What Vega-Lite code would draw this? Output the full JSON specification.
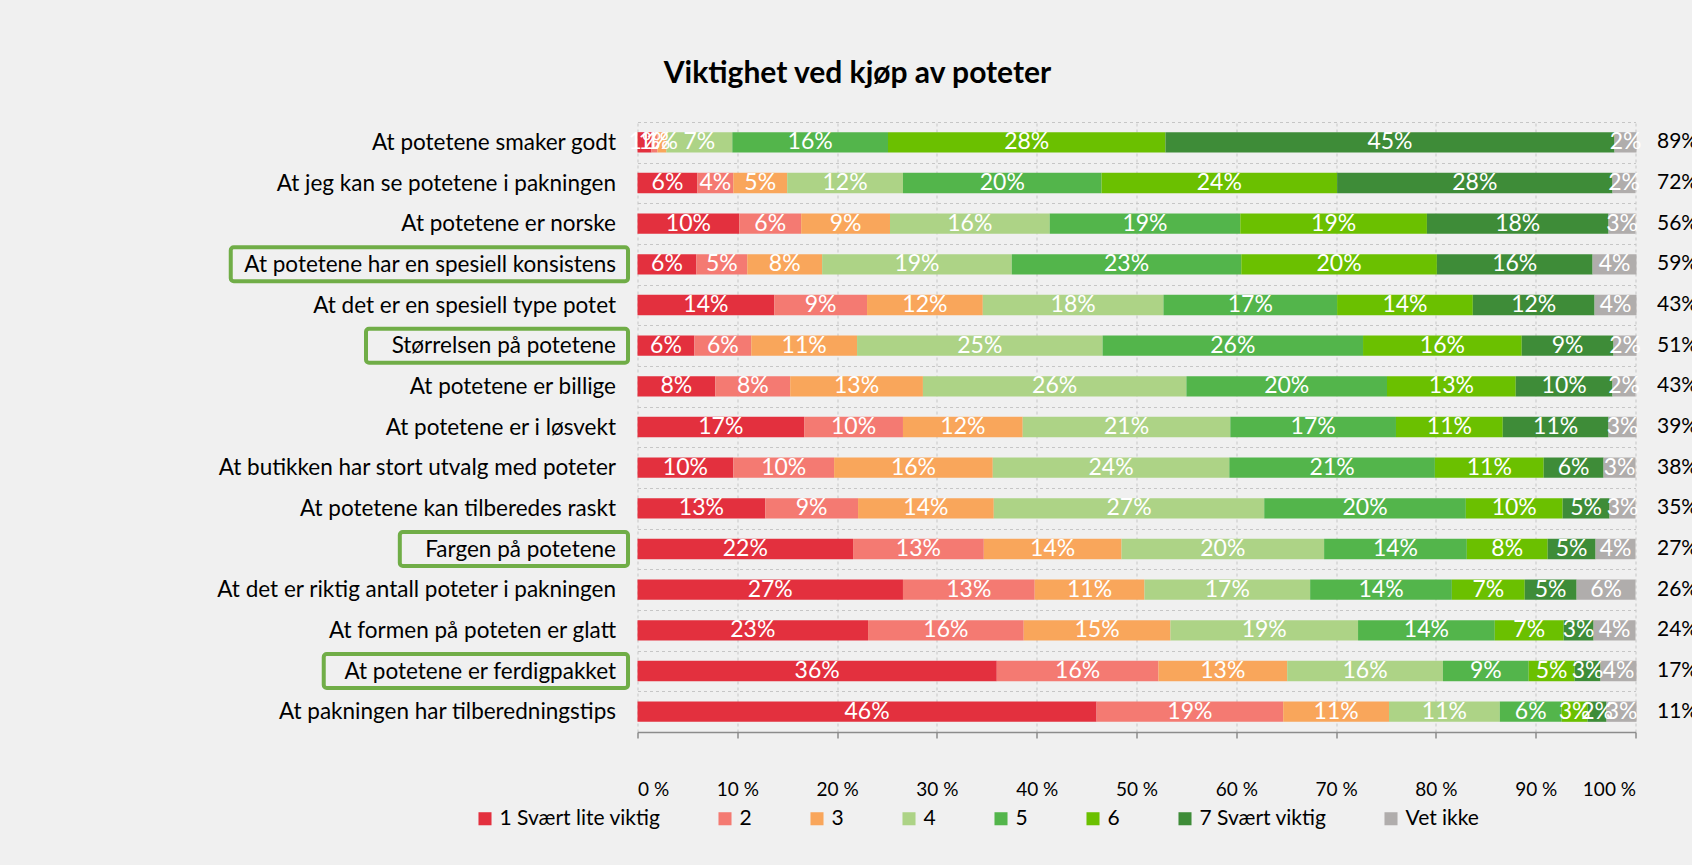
{
  "$schema": "https://vega.github.io/schema/vega-lite/v6.json",
  "autosize": {"type": "none"},
  "padding": {"left": 637.5, "top": 122, "right": 56.5, "bottom": 133},
  "width": 998,
  "height": 610,
  "background": "#F0F0F0",
  "config": {
    "font": "Lato",
    "view": {"stroke": null},
    "axisX": {"labelPadding": 42}
  },
  "title": {
    "text": "Viktighet ved kjøp av poteter",
    "font": "Lato",
    "fontSize": 30,
    "fontWeight": "bold",
    "color": "#000000",
    "anchor": "middle",
    "frame": "group",
    "dx": -279,
    "offset": 22
  },
  "data": {
    "values": [
      {"item": "At potetene smaker godt", "top": 0.89, "box": false, "1 Svært lite viktig": 0.014, "2": 0.006, "3": 0.009, "4": 0.066, "5": 0.156, "6": 0.278, "7 Svært viktig": 0.45, "Vet ikke": 0.022},
      {"item": "At jeg kan se potetene i pakningen", "top": 0.72, "box": false, "1 Svært lite viktig": 0.06, "2": 0.036, "3": 0.054, "4": 0.116, "5": 0.199, "6": 0.236, "7 Svært viktig": 0.276, "Vet ikke": 0.023},
      {"item": "At potetene er norske", "top": 0.56, "box": false, "1 Svært lite viktig": 0.102, "2": 0.062, "3": 0.089, "4": 0.16, "5": 0.191, "6": 0.187, "7 Svært viktig": 0.182, "Vet ikke": 0.027},
      {"item": "At potetene har en spesiell konsistens", "top": 0.59, "box": true, "1 Svært lite viktig": 0.059, "2": 0.051, "3": 0.075, "4": 0.19, "5": 0.23, "6": 0.196, "7 Svært viktig": 0.156, "Vet ikke": 0.044},
      {"item": "At det er en spesiell type potet", "top": 0.43, "box": false, "1 Svært lite viktig": 0.137, "2": 0.093, "3": 0.116, "4": 0.181, "5": 0.174, "6": 0.136, "7 Svært viktig": 0.122, "Vet ikke": 0.042},
      {"item": "Størrelsen på potetene", "top": 0.51, "box": true, "1 Svært lite viktig": 0.057, "2": 0.057, "3": 0.106, "4": 0.246, "5": 0.261, "6": 0.159, "7 Svært viktig": 0.092, "Vet ikke": 0.023},
      {"item": "At potetene er billige", "top": 0.43, "box": false, "1 Svært lite viktig": 0.078, "2": 0.075, "3": 0.133, "4": 0.264, "5": 0.201, "6": 0.129, "7 Svært viktig": 0.097, "Vet ikke": 0.023},
      {"item": "At potetene er i løsvekt", "top": 0.39, "box": false, "1 Svært lite viktig": 0.167, "2": 0.099, "3": 0.12, "4": 0.208, "5": 0.166, "6": 0.107, "7 Svært viktig": 0.106, "Vet ikke": 0.028},
      {"item": "At butikken har stort utvalg med poteter", "top": 0.38, "box": false, "1 Svært lite viktig": 0.096, "2": 0.101, "3": 0.159, "4": 0.237, "5": 0.206, "6": 0.109, "7 Svært viktig": 0.06, "Vet ikke": 0.032},
      {"item": "At potetene kan tilberedes raskt", "top": 0.35, "box": false, "1 Svært lite viktig": 0.128, "2": 0.093, "3": 0.136, "4": 0.271, "5": 0.202, "6": 0.097, "7 Svært viktig": 0.047, "Vet ikke": 0.026},
      {"item": "Fargen på potetene", "top": 0.27, "box": true, "1 Svært lite viktig": 0.216, "2": 0.131, "3": 0.138, "4": 0.203, "5": 0.143, "6": 0.081, "7 Svært viktig": 0.048, "Vet ikke": 0.04},
      {"item": "At det er riktig antall poteter i pakningen", "top": 0.26, "box": false, "1 Svært lite viktig": 0.266, "2": 0.132, "3": 0.11, "4": 0.166, "5": 0.142, "6": 0.073, "7 Svært viktig": 0.052, "Vet ikke": 0.059},
      {"item": "At formen på poteten er glatt", "top": 0.24, "box": false, "1 Svært lite viktig": 0.231, "2": 0.156, "3": 0.147, "4": 0.188, "5": 0.137, "6": 0.069, "7 Svært viktig": 0.03, "Vet ikke": 0.042},
      {"item": "At potetene er ferdigpakket", "top": 0.17, "box": true, "1 Svært lite viktig": 0.36, "2": 0.162, "3": 0.129, "4": 0.156, "5": 0.086, "6": 0.046, "7 Svært viktig": 0.026, "Vet ikke": 0.036},
      {"item": "At pakningen har tilberedningstips", "top": 0.11, "box": false, "1 Svært lite viktig": 0.46, "2": 0.187, "3": 0.106, "4": 0.111, "5": 0.062, "6": 0.026, "7 Svært viktig": 0.019, "Vet ikke": 0.03}
    ]
  },
  "encoding": {
    "y": {
      "field": "item",
      "type": "nominal",
      "sort": [
        "At potetene smaker godt",
        "At jeg kan se potetene i pakningen",
        "At potetene er norske",
        "At potetene har en spesiell konsistens",
        "At det er en spesiell type potet",
        "Størrelsen på potetene",
        "At potetene er billige",
        "At potetene er i løsvekt",
        "At butikken har stort utvalg med poteter",
        "At potetene kan tilberedes raskt",
        "Fargen på potetene",
        "At det er riktig antall poteter i pakningen",
        "At formen på poteten er glatt",
        "At potetene er ferdigpakket",
        "At pakningen har tilberedningstips"
      ],
      "scale": {"paddingInner": 0, "paddingOuter": 0},
      "axis": {
        "title": null,
        "domain": false,
        "ticks": false,
        "labelPadding": 22,
        "labelFont": "Lato",
        "labelFontSize": 22.5,
        "labelColor": "#000000",
        "labelLimit": 0,
        "grid": true,
        "tickBand": "extent",
        "gridDash": [3, 3],
        "gridColor": "#C6C6C6",
        "gridWidth": 1
      }
    }
  },
  "layer": [
    {
      "transform": [
        {"fold": ["1 Svært lite viktig", "2", "3", "4", "5", "6", "7 Svært viktig", "Vet ikke"], "as": ["cat", "v"]},
        {"stack": "v", "groupby": ["item"], "sort": [{"field": "cat", "order": "ascending"}], "as": ["v0", "v1"]},
        {"calculate": "(datum.v0 + datum.v1) / 2", "as": "mid"}
      ],
      "layer": [
        {
          "mark": {"type": "bar", "height": {"band": 0.5}},
          "encoding": {
            "x": {
              "field": "v0",
              "type": "quantitative",
              "scale": {"domain": [0, 1], "nice": false},
              "axis": {
                "title": null,
                "values": [0, 0.1, 0.2, 0.3, 0.4, 0.5, 0.6, 0.7, 0.8, 0.9, 1],
                "labelExpr": "round(datum.value * 100) + ' %'",
                "labelFont": "Lato",
                "labelFontSize": 19,
                "labelColor": "#000000",
                "labelPadding": 42,
                "grid": true,
                "gridDash": [3, 3],
                "gridColor": "#C6C6C6",
                "gridWidth": 1,
                "domainColor": "#8C8C8C",
                "domainWidth": 1.5,
                "tickColor": "#8C8C8C",
                "tickWidth": 1.5,
                "tickSize": 6
              }
            },
            "x2": {"field": "v1"},
            "color": {
              "field": "cat",
              "type": "nominal",
              "scale": {
                "domain": ["1 Svært lite viktig", "2", "3", "4", "5", "6", "7 Svært viktig", "Vet ikke"],
                "range": ["#E3303E", "#F47A72", "#F9A65B", "#ADD386", "#53B54B", "#6BC000", "#3E8C38", "#B0ADAC"]
              },
              "legend": {
                "title": null,
                "orient": "none",
                "legendX": -163,
                "legendY": 686,
                "direction": "horizontal",
                "columns": 8,
                "columnPadding": 54,
                "symbolType": "square",
                "symbolSize": 170,
                "symbolStrokeWidth": 0,
                "symbolOpacity": 1,
                "labelFont": "Lato",
                "labelFontSize": 21,
                "labelColor": "#000000",
                "labelOffset": 4,
                "labelLimit": 0
              }
            }
          }
        },
        {
          "mark": {"type": "text", "color": "#FFFFFF", "fontSize": 23, "font": "Lato", "align": "center", "baseline": "middle"},
          "encoding": {
            "x": {"field": "mid", "type": "quantitative"},
            "text": {"field": "v", "type": "quantitative", "format": ".0%"}
          }
        }
      ]
    },
    {
      "mark": {"type": "text", "align": "left", "baseline": "middle", "fontSize": 21, "font": "Lato", "color": "#000000"},
      "encoding": {
        "x": {"datum": 1.0215, "type": "quantitative"},
        "text": {"field": "top", "type": "quantitative", "format": ".0%"}
      }
    },
    {
      "transform": [
        {"filter": "datum.box"},
        {"calculate": "-0.0857 - 0.00847 * length(datum.item)", "as": "boxLeft"},
        {"calculate": "-0.0095", "as": "boxRight"}
      ],
      "mark": {"type": "bar", "height": 34, "fill": null, "fillOpacity": 0, "stroke": "#70AD47", "strokeWidth": 4, "cornerRadius": 3},
      "encoding": {
        "x": {"field": "boxLeft", "type": "quantitative"},
        "x2": {"field": "boxRight"}
      }
    }
  ]
}
